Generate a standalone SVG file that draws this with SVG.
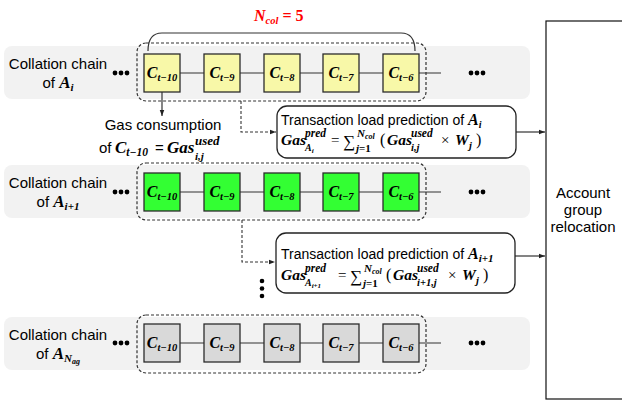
<svg xmlns="http://www.w3.org/2000/svg" width="622" height="402" viewBox="0 0 622 402">
  <defs>
    <style>
      .sans { font-family: "Liberation Sans", Arial, sans-serif; fill: #000; }
      .m { font-family: "Liberation Serif", "DejaVu Serif", serif; font-weight: bold; font-style: italic; fill: #000; }
      .r { font-family: "Liberation Serif", "DejaVu Serif", serif; font-weight: normal; font-style: normal; }
      .up { font-style: normal; }
      .band { fill: #F2F2F2; }
      .frame { fill: none; stroke: #333; stroke-width: 1.2; stroke-dasharray: 3 2; }
      .blk { stroke: #2b2b2b; stroke-width: 1.3; }
      .y { fill: #F8F8A8; }
      .g { fill: #33FF33; }
      .gr { fill: #D9D9D9; }
      .link { stroke: #333; stroke-width: 1.2; fill: none; }
      .dash { fill: none; stroke: #333; stroke-width: 1.1; stroke-dasharray: 3 2; }
      .box { fill: #fff; stroke: #222; stroke-width: 1.3; }
      .dot { fill: #000; }
      .cl { font-size: 16px; text-anchor: middle; }
      .cs { font-size: 10.5px; }
    </style>
    <marker id="ah" viewBox="0 0 8 8" refX="8" refY="4" markerWidth="6" markerHeight="6" orient="auto" markerUnits="userSpaceOnUse">
      <path d="M0,1 L8,4 L0,7 z" fill="#222"/>
    </marker>
  </defs>

  <rect width="622" height="402" fill="#fff"/>

  <!-- background bands -->
  <rect class="band" x="4" y="46" width="526" height="53" rx="8"/>
  <rect class="band" x="4" y="165" width="526" height="53" rx="8"/>
  <rect class="band" x="4" y="317" width="526" height="53" rx="8"/>

  <!-- chain links behind blocks -->
  <g id="connectors">
    <line class="link" x1="162" y1="73" x2="441" y2="73"/>
    <line class="link" x1="162" y1="192" x2="441" y2="192"/>
    <line class="link" x1="162" y1="343" x2="441" y2="343"/>

    <!-- gas consumption of the first block -->
    <line class="link" x1="162" y1="92" x2="162" y2="116" marker-end="url(#ah)"/>

    <!-- window to load prediction -->
    <path class="dash" d="M241,101 V132 H276" marker-end="url(#ah)"/>
    <path class="dash" d="M242,220 V262 H275" marker-end="url(#ah)"/>

    <!-- predictions to relocation -->
    <line class="link" x1="516" y1="132" x2="545" y2="132" marker-end="url(#ah)"/>
    <line class="link" x1="515" y1="256" x2="545" y2="256" marker-end="url(#ah)"/>

    <!-- window brace -->
    <path class="link" stroke-width="1.5" d="M148,51 Q148,33 162,33 H401 Q415,33 415,51"/>
  </g>

  <!-- window size -->
  <text class="m" x="254" y="21" font-size="16" style="fill:#FF0000">N<tspan font-size="10.5" dy="3">col</tspan><tspan class="up" dy="-3"> = 5</tspan></text>

  <!-- row A_i -->
  <g id="row-a-i">
    <text class="sans" x="58" y="69" font-size="15" text-anchor="middle">Collation chain</text>
    <text class="sans" x="58" y="88" font-size="15" text-anchor="middle">of <tspan class="m" font-size="17">A</tspan><tspan class="m" font-size="11" dy="3">i</tspan></text>
    <g class="dot"><circle cx="115" cy="73" r="2.4"/><circle cx="121" cy="73" r="2.4"/><circle cx="127" cy="73" r="2.4"/></g>
    <g class="dot"><circle cx="471" cy="73" r="2.4"/><circle cx="477" cy="73" r="2.4"/><circle cx="483" cy="73" r="2.4"/></g>
    <g id="a-i-c10"><rect class="blk y" x="144" y="54" width="36" height="38"/><text class="m cl" x="162" y="78">C<tspan class="cs" dy="3">t−10</tspan></text></g>
    <g id="a-i-c9"><rect class="blk y" x="204" y="54" width="36" height="38"/><text class="m cl" x="222" y="78">C<tspan class="cs" dy="3">t−9</tspan></text></g>
    <g id="a-i-c8"><rect class="blk y" x="264" y="54" width="36" height="38"/><text class="m cl" x="282" y="78">C<tspan class="cs" dy="3">t−8</tspan></text></g>
    <g id="a-i-c7"><rect class="blk y" x="323" y="54" width="36" height="38"/><text class="m cl" x="341" y="78">C<tspan class="cs" dy="3">t−7</tspan></text></g>
    <g id="a-i-c6"><rect class="blk y" x="383" y="54" width="36" height="38"/><text class="m cl" x="401" y="78">C<tspan class="cs" dy="3">t−6</tspan></text></g>
    <rect class="frame" x="137" y="43" width="289" height="58" rx="9"/>
  </g>

  <!-- gas consumption label -->
  <g id="gas-consumption">
    <text class="sans" x="163" y="130" font-size="15" text-anchor="middle">Gas consumption</text>
    <text class="sans" x="99" y="153" font-size="15">of</text>
    <text class="m" font-size="17" x="115" y="153">C<tspan font-size="11.5" dy="3">t−10</tspan></text>
    <text class="sans" x="155" y="153" font-size="15">=</text>
    <text class="m" font-size="17" x="167" y="153">Gas</text>
    <text class="m" font-size="13" x="195" y="145">used</text>
    <text class="m" font-size="11" x="195" y="160">i,j</text>
  </g>

  <!-- load prediction of A_i -->
  <g id="pred-a-i">
    <rect class="box" x="277" y="106" width="239" height="52" rx="10"/>
    <text class="sans" x="281" y="125" font-size="14">Transaction load prediction of <tspan class="m" font-size="16">A</tspan><tspan class="m" font-size="10" dy="3">i</tspan></text>
    <text class="m" font-size="15.5" x="281" y="145">Gas<tspan font-size="11.5" x="305" y="137">pred</tspan><tspan font-size="10" x="305" y="151">A</tspan><tspan font-size="7" dy="2">i</tspan><tspan class="r" font-size="15" x="331" y="145">=</tspan><tspan class="r" font-size="17" x="343" y="147">∑</tspan><tspan font-size="11" x="357" y="137">N</tspan><tspan font-size="8" dy="2">col</tspan><tspan font-size="11" x="356" y="152">j</tspan><tspan class="up" font-size="11">=1</tspan><tspan class="r" font-size="16" x="380" y="145">(</tspan><tspan x="387" y="145">Gas</tspan><tspan font-size="11.5" x="411" y="137">used</tspan><tspan font-size="10.5" x="411" y="151">i,j</tspan><tspan class="r" font-size="15" x="441" y="145">×</tspan><tspan x="455" y="145">W</tspan><tspan font-size="10.5" x="469" y="149">j</tspan><tspan class="r" font-size="16" x="476" y="145">)</tspan></text>
  </g>

  <!-- row A_{i+1} -->
  <g id="row-a-i1">
    <text class="sans" x="58" y="188" font-size="15" text-anchor="middle">Collation chain</text>
    <text class="sans" x="58" y="207" font-size="15" text-anchor="middle">of <tspan class="m" font-size="17">A</tspan><tspan class="m" font-size="11" dy="3">i+1</tspan></text>
    <g class="dot"><circle cx="115" cy="192" r="2.4"/><circle cx="121" cy="192" r="2.4"/><circle cx="127" cy="192" r="2.4"/></g>
    <g class="dot"><circle cx="471" cy="192" r="2.4"/><circle cx="477" cy="192" r="2.4"/><circle cx="483" cy="192" r="2.4"/></g>
    <g id="a-i1-c10"><rect class="blk g" x="144" y="173" width="36" height="38"/><text class="m cl" x="162" y="197">C<tspan class="cs" dy="3">t−10</tspan></text></g>
    <g id="a-i1-c9"><rect class="blk g" x="204" y="173" width="36" height="38"/><text class="m cl" x="222" y="197">C<tspan class="cs" dy="3">t−9</tspan></text></g>
    <g id="a-i1-c8"><rect class="blk g" x="264" y="173" width="36" height="38"/><text class="m cl" x="282" y="197">C<tspan class="cs" dy="3">t−8</tspan></text></g>
    <g id="a-i1-c7"><rect class="blk g" x="323" y="173" width="36" height="38"/><text class="m cl" x="341" y="197">C<tspan class="cs" dy="3">t−7</tspan></text></g>
    <g id="a-i1-c6"><rect class="blk g" x="383" y="173" width="36" height="38"/><text class="m cl" x="401" y="197">C<tspan class="cs" dy="3">t−6</tspan></text></g>
    <rect class="frame" x="137" y="163" width="289" height="57" rx="9"/>
  </g>

  <!-- load prediction of A_{i+1} -->
  <g id="pred-a-i1">
    <rect class="box" x="276" y="233" width="239" height="60" rx="10"/>
    <text class="sans" x="281" y="259" font-size="14">Transaction load prediction of <tspan class="m" font-size="16">A</tspan><tspan class="m" font-size="11" dy="3">i+1</tspan></text>
    <text class="m" font-size="15.5" x="281" y="280">Gas<tspan font-size="11.5" x="305" y="272">pred</tspan><tspan font-size="10" x="305" y="286">A</tspan><tspan font-size="7" dy="2">i+1</tspan><tspan class="r" font-size="15" x="338" y="280">=</tspan><tspan class="r" font-size="17" x="350" y="282">∑</tspan><tspan font-size="11" x="364" y="272">N</tspan><tspan font-size="8" dy="2">col</tspan><tspan font-size="11" x="363" y="287">j</tspan><tspan class="up" font-size="11">=1</tspan><tspan class="r" font-size="16" x="386" y="280">(</tspan><tspan x="393" y="280">Gas</tspan><tspan font-size="11.5" x="417" y="272">used</tspan><tspan font-size="10.5" x="417" y="286">i+1,j</tspan><tspan class="r" font-size="15" x="448" y="280">×</tspan><tspan x="462" y="280">W</tspan><tspan font-size="10.5" x="476" y="284">j</tspan><tspan class="r" font-size="16" x="483" y="280">)</tspan></text>
  </g>

  <!-- vertical ellipsis -->
  <g class="dot"><circle cx="262" cy="281" r="2.3"/><circle cx="262" cy="288.5" r="2.3"/><circle cx="262" cy="296" r="2.3"/></g>

  <!-- row A_{N_ag} -->
  <g id="row-a-nag">
    <text class="sans" x="58" y="340" font-size="15" text-anchor="middle">Collation chain</text>
    <text class="sans" x="58" y="359" font-size="15" text-anchor="middle">of <tspan class="m" font-size="17">A</tspan><tspan class="m" font-size="11" dy="3">N</tspan><tspan class="m" font-size="8" dy="2">ag</tspan></text>
    <g class="dot"><circle cx="115" cy="343" r="2.4"/><circle cx="121" cy="343" r="2.4"/><circle cx="127" cy="343" r="2.4"/></g>
    <g class="dot"><circle cx="471" cy="343" r="2.4"/><circle cx="477" cy="343" r="2.4"/><circle cx="483" cy="343" r="2.4"/></g>
    <g id="a-nag-c10"><rect class="blk gr" x="144" y="324" width="36" height="38"/><text class="m cl" x="162" y="348">C<tspan class="cs" dy="3">t−10</tspan></text></g>
    <g id="a-nag-c9"><rect class="blk gr" x="204" y="324" width="36" height="38"/><text class="m cl" x="222" y="348">C<tspan class="cs" dy="3">t−9</tspan></text></g>
    <g id="a-nag-c8"><rect class="blk gr" x="264" y="324" width="36" height="38"/><text class="m cl" x="282" y="348">C<tspan class="cs" dy="3">t−8</tspan></text></g>
    <g id="a-nag-c7"><rect class="blk gr" x="323" y="324" width="36" height="38"/><text class="m cl" x="341" y="348">C<tspan class="cs" dy="3">t−7</tspan></text></g>
    <g id="a-nag-c6"><rect class="blk gr" x="383" y="324" width="36" height="38"/><text class="m cl" x="401" y="348">C<tspan class="cs" dy="3">t−6</tspan></text></g>
    <rect class="frame" x="137" y="315" width="289" height="58" rx="9"/>
  </g>

  <!-- account group relocation -->
  <g id="relocation">
    <rect x="546" y="21" width="80" height="378" fill="#fff" stroke="#111" stroke-width="1.2"/>
    <text class="sans" x="583" y="198" font-size="15" text-anchor="middle">Account</text>
    <text class="sans" x="583" y="215" font-size="15" text-anchor="middle">group</text>
    <text class="sans" x="583" y="232" font-size="15" text-anchor="middle">relocation</text>
  </g>
</svg>
